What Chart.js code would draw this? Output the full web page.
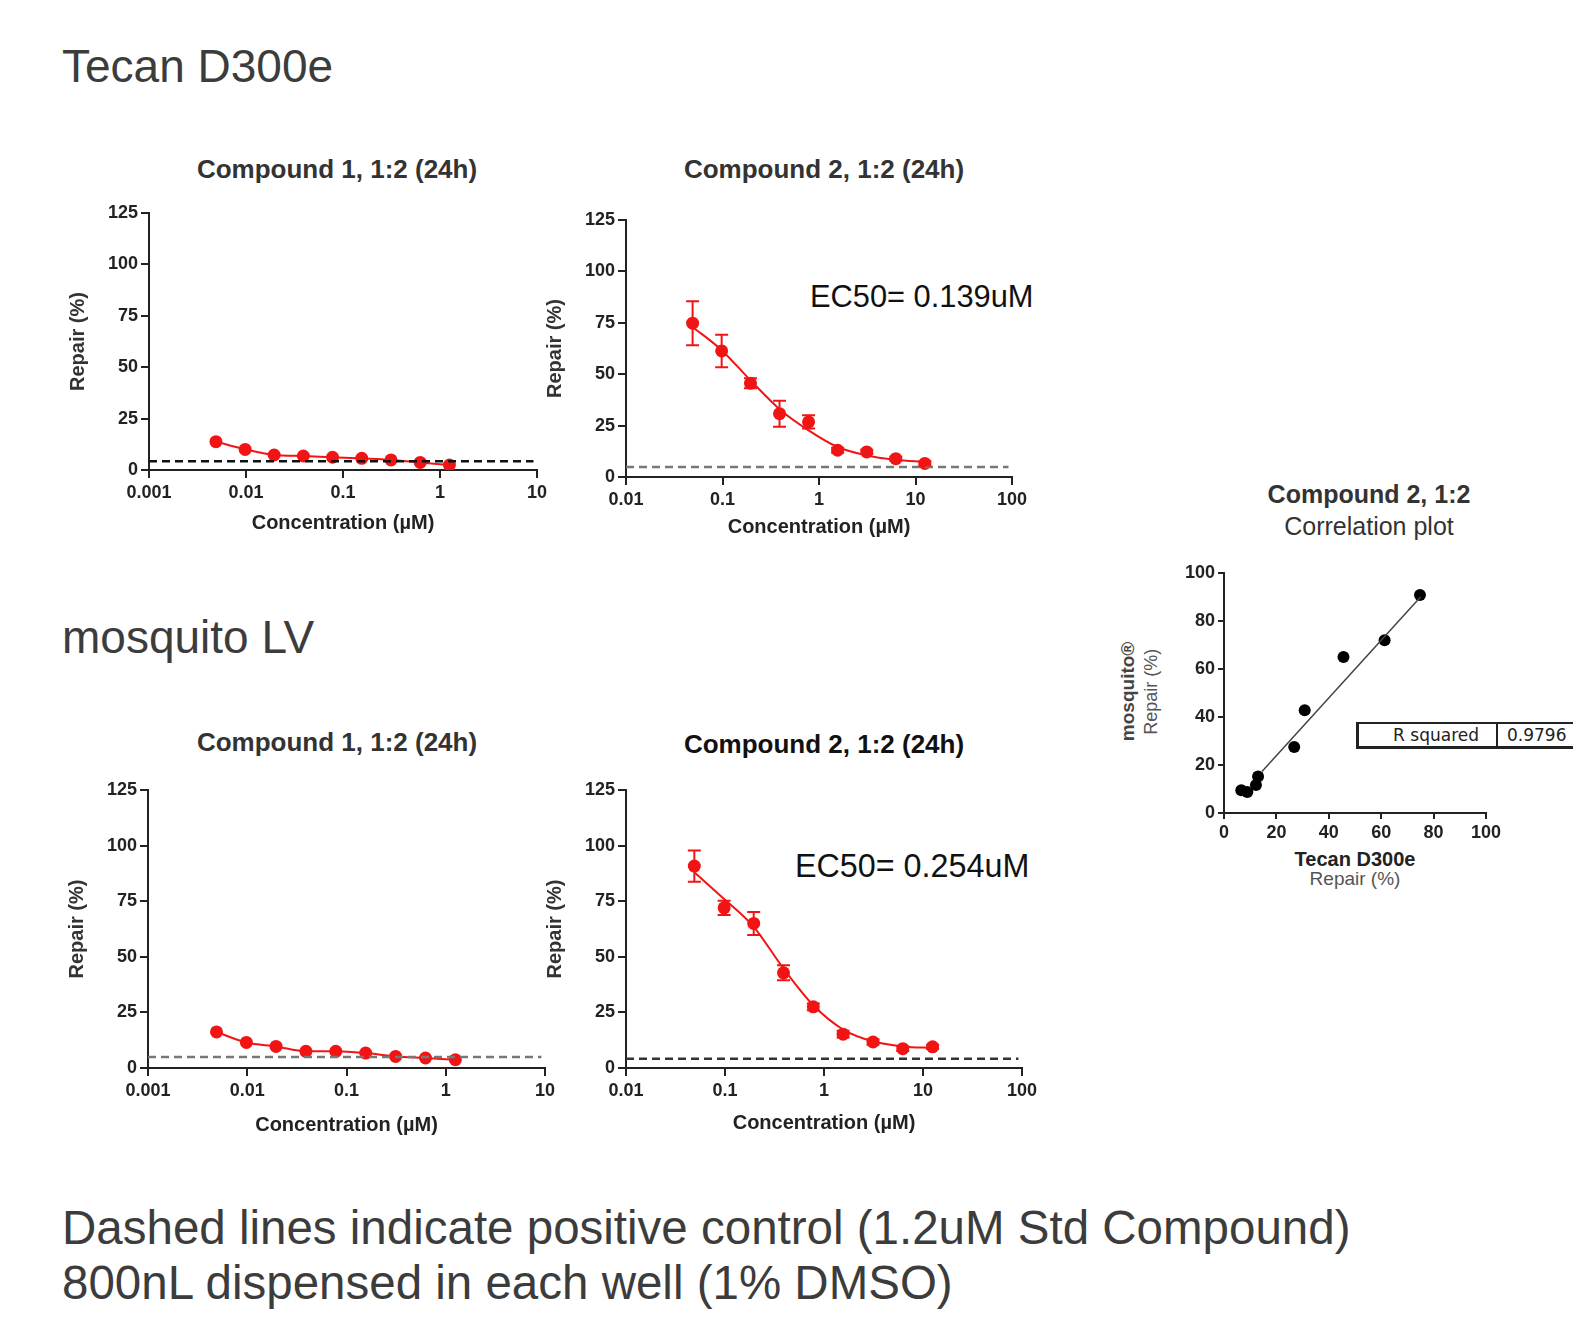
<!DOCTYPE html>
<html>
<head>
<meta charset="utf-8">
<script src="https://cdn.jsdelivr.net/npm/chart.js@4.4.0/dist/chart.umd.min.js"></script>
<style>
body { margin: 0; background: #fff; width: 1573px; height: 1320px; position: relative; overflow: hidden; font-family: "Liberation Sans", Arial, sans-serif; }
.t { position: absolute; white-space: nowrap; color: #3c3c3c; line-height: 1.2; }
.big { font-size: 46px; }
.ttl { font-size: 26px; font-weight: bold; color: #333; text-align: center; width: 400px; }
.ec { font-size: 30.8px; color: #111; }
canvas { position: absolute; }
.rsq { position: absolute; left: 1356px; top: 722px; width: 260px; height: 22px; border: 2px solid #222; border-bottom-width: 3px; border-left-width: 3px; font-family: "DejaVu Sans", Verdana, sans-serif; font-size: 17px; color: #222; display: flex; line-height: 22px; }
.rsq div { height: 22px; }
</style>
</head>
<body>

<div class="t big" style="left:62px; top:39px;">Tecan D300e</div>
<div class="t big" style="left:62px; top:610px;">mosquito LV</div>
<div class="t big" style="left:62px; top:1200px; font-size:47.5px; line-height:55px;">Dashed lines indicate positive control (1.2uM Std Compound)<br>800nL dispensed in each well (1% DMSO)</div>

<div class="t ttl" style="left:137px; top:154px;">Compound 1, 1:2 (24h)</div>
<div class="t ttl" style="left:624px; top:154px;">Compound 2, 1:2 (24h)</div>
<div class="t ttl" style="left:137px; top:727px;">Compound 1, 1:2 (24h)</div>
<div class="t ttl" style="left:624px; top:729px; color:#111;">Compound 2, 1:2 (24h)</div>

<div class="t ec" style="left:810px; top:279px;">EC50= 0.139uM</div>
<div class="t ec" style="left:795px; top:847px; font-size:32.3px;">EC50= 0.254uM</div>

<div class="t" style="left:1169px; top:479px; width:400px; text-align:center; font-size:25px; font-weight:bold; color:#333;">Compound 2, 1:2</div>
<div class="t" style="left:1169px; top:511px; width:400px; text-align:center; font-size:25px; color:#333;">Correlation plot</div>
<div class="t" style="left:1028px; top:680px; width:200px; text-align:center; font-size:19px; font-weight:bold; color:#444; transform:rotate(-90deg);">mosquito®</div>
<div class="t" style="left:1052px; top:681px; width:200px; text-align:center; font-size:18px; color:#555; transform:rotate(-90deg);">Repair (%)</div>
<div class="t" style="left:1255px; top:847px; width:200px; text-align:center; font-size:20px; font-weight:bold; color:#222;">Tecan D300e</div>
<div class="t" style="left:1255px; top:868px; width:200px; text-align:center; font-size:19px; color:#555;">Repair (%)</div>

<div class="rsq"><div style="width:120px; text-align:right; padding-right:17px; border-right:2px solid #222;">R squared</div><div style="padding-left:9px;">0.9796</div></div>

<canvas id="c1"></canvas>
<canvas id="c2"></canvas>
<canvas id="c3"></canvas>
<canvas id="c4"></canvas>
<canvas id="c5"></canvas>

<script>
// dilution series (uM)
const concC1 = [0.0049, 0.0098, 0.0195, 0.039, 0.078, 0.156, 0.3125, 0.625, 1.25];
const concC2 = [0.049, 0.098, 0.195, 0.39, 0.78, 1.56, 3.125, 6.25, 12.5];

// Tecan D300e
const tecanC1 = [13.8, 10.0, 7.3, 6.8, 6.2, 5.7, 4.9, 3.7, 2.4];
const tecanC2 = [74.8, 61.3, 45.6, 30.8, 26.8, 13.0, 12.2, 8.9, 6.6];
const tecanC2Err = [10.7, 7.9, 2.4, 6.3, 3.2, 1.2, 1.0, 1.0, 1.0];
const tecanC2Fit = [73, 61.7, 47, 33, 22.7, 14.6, 10.5, 8.4, 7.3];

// mosquito LV
const mosqC1 = [16.2, 11.5, 9.7, 7.5, 7.5, 6.7, 5.2, 4.5, 3.7];
const mosqC2 = [90.8, 72.0, 65.0, 42.8, 27.5, 15.2, 11.7, 8.7, 9.5];
const mosqC2Err = [7.0, 3.2, 5.2, 3.4, 1.5, 1.5, 1.2, 1.0, 1.0];
const mosqC2Fit = [88, 76, 63.5, 44.7, 28.2, 17.3, 12, 9.7, 9];

// positive control level (dashed lines)
const posCtrl = [4.2, 4.9, 4.9, 4.2];

// regression line end points of the correlation plot
const corrFit = [{x: 14.5, y: 17.3}, {x: 75, y: 90}];

const xTicksC1 = [0.001, 0.01, 0.1, 1, 10];
const xLabelsC1 = ['0.001', '0.01', '0.1', '1', '10'];
const xTicksC2 = [0.01, 0.1, 1, 10, 100];
const xLabelsC2 = ['0.01', '0.1', '1', '10', '100'];
const yTicks = [0, 25, 50, 75, 100, 125];
const corrTicks = [0, 20, 40, 60, 80, 100];

const FONT = '"Liberation Sans", Arial, sans-serif';
const RED = '#f21414';
const INK = '#222';

const errorBars = {
  id: 'errorBars',
  afterDatasetsDraw(chart) {
    const ctx = chart.ctx;
    const ys = chart.scales.y;
    chart.data.datasets.forEach((ds, i) => {
      if (!ds.errors) return;
      const meta = chart.getDatasetMeta(i);
      ctx.save();
      ctx.strokeStyle = ds.borderColor;
      ctx.lineWidth = 2;
      meta.data.forEach((pt, j) => {
        const v = ds.data[j].y, e = ds.errors[j];
        const y0 = ys.getPixelForValue(v - e), y1 = ys.getPixelForValue(v + e);
        ctx.beginPath();
        ctx.moveTo(pt.x, y0); ctx.lineTo(pt.x, y1);
        ctx.moveTo(pt.x - 6.5, y0); ctx.lineTo(pt.x + 6.5, y0);
        ctx.moveTo(pt.x - 6.5, y1); ctx.lineTo(pt.x + 6.5, y1);
        ctx.stroke();
      });
      ctx.restore();
    });
  }
};

function place(canvas, rect, YW, XH, PT, PR) {
  const [L, T, R, B] = rect;
  canvas.width = (R - L) + YW + PR;
  canvas.height = (B - T) + PT + XH;
  canvas.style.left = (L - YW) + 'px';
  canvas.style.top = (T - PT) + 'px';
}

function doseChart(id, rect, conc, vals, fit, errs, pc, dashColor, xTicks, xLabels, titlePad) {
  const YW = 92, XH = 72, PT = 16, PR = 22;
  const canvas = document.getElementById(id);
  place(canvas, rect, YW, XH, PT, PR);
  const pts = conc.map((c, i) => ({x: c, y: vals[i]}));
  const curve = conc.map((c, i) => ({x: c, y: fit[i]}));
  const datasets = [
    {data: [{x: xTicks[0], y: pc}, {x: xTicks[xTicks.length - 1] * 0.92, y: pc}], showLine: true,
     borderColor: dashColor, borderWidth: 2.5, borderDash: [8, 5], pointRadius: 0},
    {data: curve, showLine: true, borderColor: RED, borderWidth: 2, pointRadius: 0,
     cubicInterpolationMode: 'monotone'},
    {data: pts, showLine: false, pointRadius: 6.5, backgroundColor: RED, borderColor: RED,
     borderWidth: 0, errors: errs}
  ];
  new Chart(canvas, {
    type: 'scatter',
    data: {datasets},
    options: {
      responsive: false,
      animation: false,
      layout: {autoPadding: false, padding: {top: PT, right: PR, left: 0, bottom: 0}},
      plugins: {legend: {display: false}, tooltip: {enabled: false}},
      scales: {
        x: {
          type: 'logarithmic', min: xTicks[0], max: xTicks[xTicks.length - 1],
          afterBuildTicks: a => { a.ticks = xTicks.map(v => ({value: v})); },
          afterFit: a => { a.height = XH; },
          ticks: {callback: v => xLabels[xTicks.indexOf(v)], color: INK, padding: 4,
                  maxRotation: 0, autoSkip: false, font: {family: FONT, size: 18, weight: 'bold'}},
          grid: {drawOnChartArea: false, tickLength: 8, color: INK, lineWidth: 2},
          border: {color: INK, width: 2},
          title: {display: true, text: 'Concentration (µM)', color: INK, padding: {top: 0, bottom: titlePad},
                  font: {family: FONT, size: 20, weight: 'bold'}}
        },
        y: {
          min: 0, max: 125,
          afterBuildTicks: a => { a.ticks = yTicks.map(v => ({value: v})); },
          afterFit: a => { a.width = YW; },
          ticks: {color: INK, padding: 3, font: {family: FONT, size: 18, weight: 'bold'}},
          grid: {drawOnChartArea: false, tickLength: 8, color: INK, lineWidth: 2},
          border: {color: INK, width: 2},
          title: {display: true, text: 'Repair (%)', color: '#333', padding: {top: 9, bottom: 0},
                  font: {family: FONT, size: 20, weight: 'bold'}}
        }
      }
    },
    plugins: [errorBars]
  });
}

doseChart('c1', [149, 213, 537, 470], concC1, tecanC1, tecanC1, null, posCtrl[0], '#111', xTicksC1, xLabelsC1, 7);
doseChart('c2', [626, 220, 1012, 477], concC2, tecanC2, tecanC2Fit, tecanC2Err, posCtrl[1], '#777', xTicksC2, xLabelsC2, 10);
doseChart('c3', [148, 790, 545, 1068], concC1, mosqC1, mosqC1, null, posCtrl[2], '#777', xTicksC1, xLabelsC1, 3);
doseChart('c4', [626, 790, 1022, 1068], concC2, mosqC2, mosqC2Fit, mosqC2Err, posCtrl[3], '#333', xTicksC2, xLabelsC2, 5);

// correlation plot: Tecan vs mosquito, compound 2
(function () {
  const YW = 50, XH = 34, PT = 14, PR = 22;
  const canvas = document.getElementById('c5');
  place(canvas, [1224, 573, 1486, 813], YW, XH, PT, PR);
  const axis = (setSize) => ({
    min: 0, max: 100,
    afterBuildTicks: a => { a.ticks = corrTicks.map(v => ({value: v})); },
    afterFit: setSize,
    ticks: {color: INK, padding: 3, maxRotation: 0, font: {family: FONT, size: 18, weight: 'bold'}},
    grid: {drawOnChartArea: false, tickLength: 6, color: INK, lineWidth: 2},
    border: {color: INK, width: 2}
  });
  new Chart(canvas, {
    type: 'scatter',
    data: {
      datasets: [
        {data: corrFit, showLine: true, borderColor: '#444', borderWidth: 1.5, pointRadius: 0},
        {data: tecanC2.map((v, i) => ({x: v, y: mosqC2[i]})), pointRadius: 6,
         backgroundColor: '#000', borderColor: '#000', borderWidth: 0}
      ]
    },
    options: {
      responsive: false,
      animation: false,
      layout: {autoPadding: false, padding: {top: PT, right: PR, left: 0, bottom: 0}},
      plugins: {legend: {display: false}, tooltip: {enabled: false}},
      scales: {
        x: axis(a => { a.height = XH; }),
        y: axis(a => { a.width = YW; })
      }
    }
  });
})();
</script>
</body>
</html>
